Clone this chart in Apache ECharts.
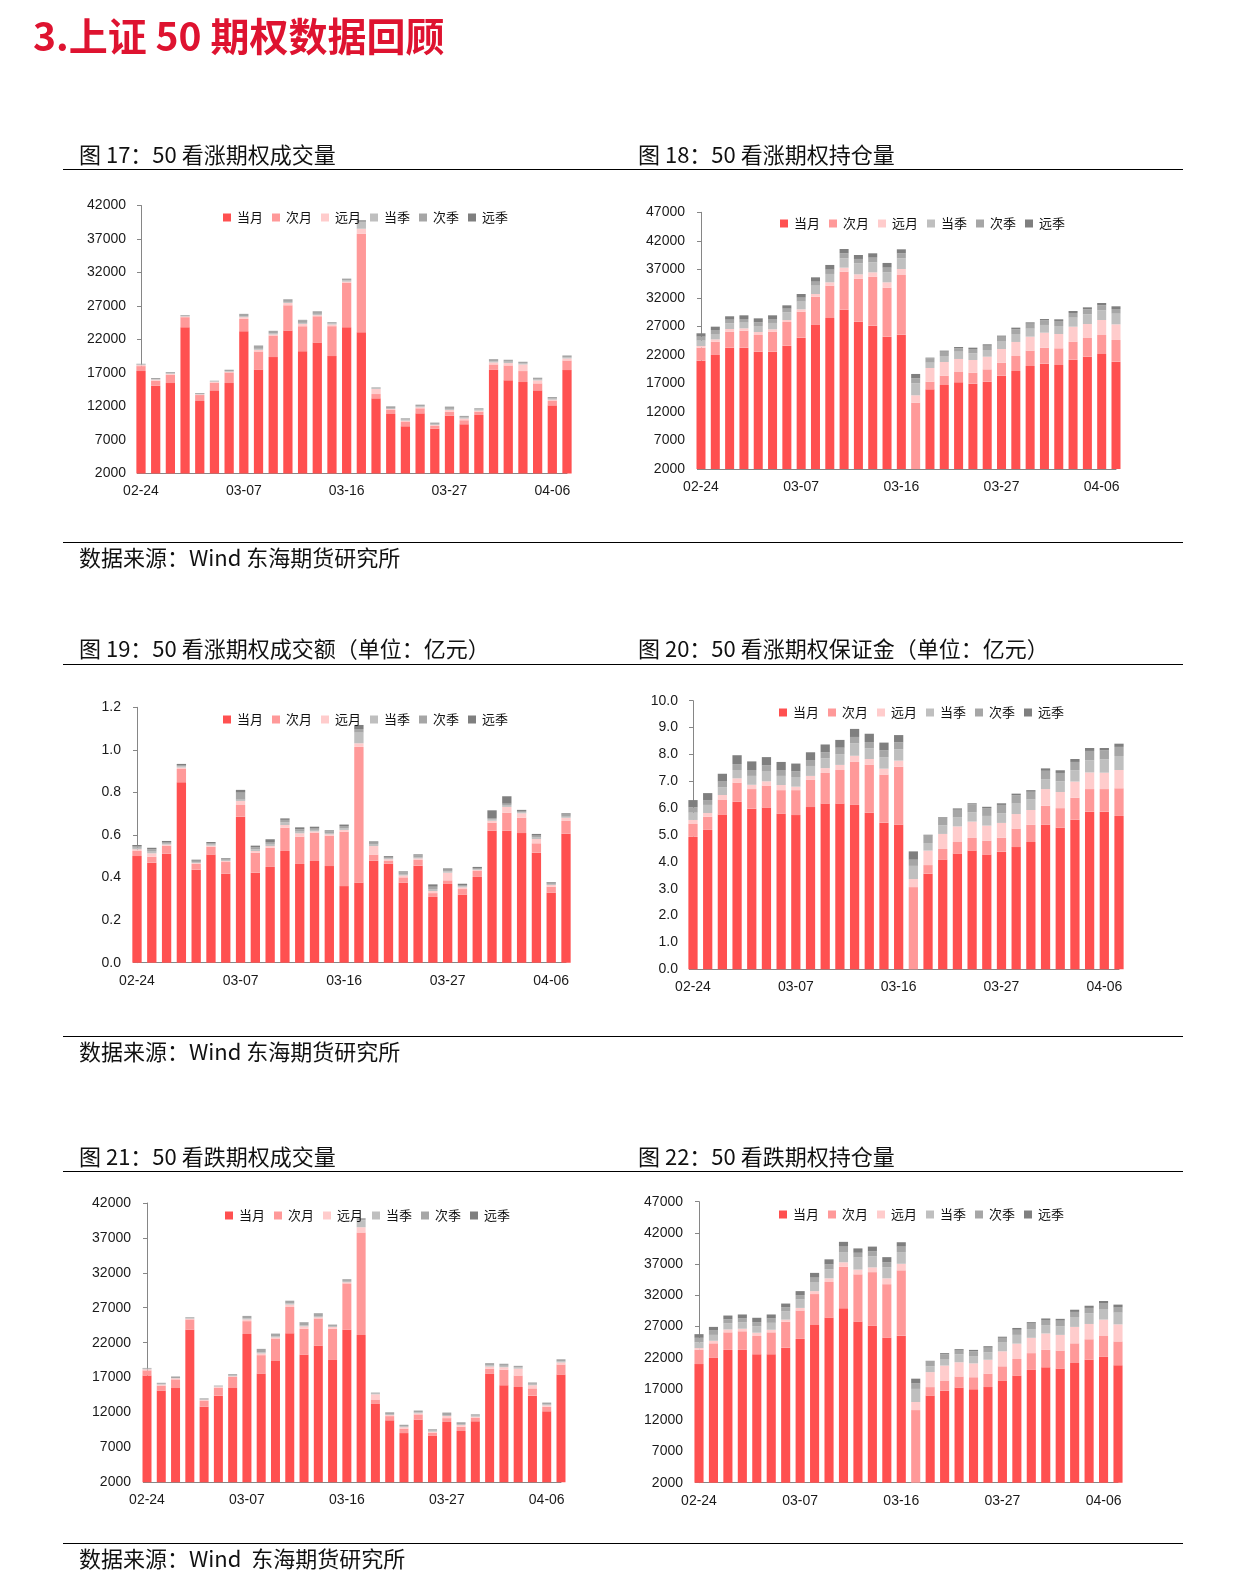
<!DOCTYPE html>
<html><head><meta charset="utf-8">
<script src="https://cdn.jsdelivr.net/npm/echarts/dist/echarts.min.js"></script>
<style>html,body{margin:0;padding:0;background:#fff}#c{width:1234px;height:1571px}</style>
</head><body><div id="c"></div>
<script>
// ---------- DATA ----------
const dates = ['02-24','02-27','02-28','03-01','03-02','03-03','03-06','03-07','03-08','03-09','03-10','03-13','03-14','03-15','03-16','03-17','03-20','03-21','03-22','03-23','03-24','03-27','03-28','03-29','03-30','03-31','04-03','04-04','04-06','04-07'];
const seriesNames = ['当月','次月','远月','当季','次季','远季'];

// 图17 50看涨期权成交量
const callVolCur  = [17290,15100,15500,23840,12820,14410,15500,23240,17530,19370,23340,20260,21550,19520,23840,23090,13220,10880,9050,10980,8700,10640,9350,10740,17530,15900,15650,14410,12170,17430];
const callVolNext = [740,750,1240,1490,890,1140,1590,1840,2680,3230,3770,3720,3920,4470,6650,14690,640,600,640,750,400,550,600,500,750,2230,1640,1040,650,1440];
const callVolFar  = [150,150,150,100,100,150,100,250,250,150,350,350,150,250,150,750,740,150,200,150,150,300,250,150,300,350,990,450,200,300];
const callVolQ1   = [100,100,50,50,50,50,100,150,150,150,150,150,200,150,200,1000,100,150,150,150,150,150,150,150,150,200,200,200,150,150];
const callVolQ2   = [100,150,150,100,100,100,200,350,500,400,400,400,400,200,250,300,150,250,200,250,200,350,250,200,200,300,200,200,250,300];
const callVolQ3   = [0,0,50,50,50,0,0,0,0,0,0,50,0,0,0,0,0,0,0,0,0,0,0,0,100,0,0,0,0,0];

// 图18 50看涨期权持仓量
const callOiCur  = [20990,21990,23270,23270,22570,22570,23620,25030,27250,28470,29930,27830,27130,25200,25550,0,15970,16730,17190,16960,17310,18360,19180,20060,20470,20230,21170,21690,22160,20820];
const callOiNext = [2280,2330,2810,2980,2920,3510,4150,4550,4960,5670,6670,7540,8590,8590,10460,13630,1340,1630,1820,1930,2160,2280,2630,2690,2800,2930,3150,3280,3330,3800];
const callOiFar  = [290,410,460,410,530,410,350,410,470,590,700,760,760,940,1050,1290,2400,2400,2280,2220,2220,2400,2460,2450,2630,2510,2630,2450,2630,2740];
const callOiQ1   = [940,940,1000,1000,1050,1110,1350,1350,1460,1460,1640,1930,1750,1750,1880,2100,930,1050,1280,1170,1170,1400,1400,1400,1350,1400,1580,1700,1700,1870];
const callOiQ2   = [700,700,640,640,640,700,640,700,700,760,870,760,820,820,870,880,760,760,590,760,760,760,820,880,810,880,820,870,870,820];
const callOiQ3   = [590,580,590,640,700,640,580,640,760,820,760,700,760,820,700,760,120,180,230,230,240,180,290,230,240,290,350,350,410,470];

// 图19 50看涨期权成交额（亿元）
const callAmtCur  = [0.501,0.470,0.512,0.848,0.437,0.508,0.418,0.686,0.423,0.450,0.525,0.464,0.478,0.454,0.360,0.376,0.479,0.465,0.376,0.456,0.309,0.370,0.320,0.403,0.620,0.620,0.609,0.517,0.329,0.606];
const callAmtNext = [0.024,0.028,0.038,0.062,0.027,0.037,0.055,0.055,0.094,0.090,0.109,0.128,0.133,0.143,0.256,0.638,0.029,0.013,0.025,0.027,0.018,0.017,0.026,0.028,0.038,0.085,0.072,0.044,0.028,0.060];
const callAmtFar  = [0.008,0.016,0.005,0.007,0.004,0.005,0.005,0.019,0.008,0.008,0.013,0.016,0.006,0.006,0.008,0.017,0.040,0.008,0.009,0.007,0.010,0.036,0.008,0.005,0.009,0.027,0.021,0.020,0.008,0.015];
const callAmtQ1   = [0.007,0.008,0.004,0.006,0.005,0.005,0.005,0.006,0.008,0.010,0.013,0.008,0.007,0.006,0.007,0.050,0.007,0.004,0.007,0.004,0.009,0.006,0.005,0.003,0.008,0.009,0.005,0.007,0.005,0.005];
const callAmtQ2   = [0.008,0.011,0.008,0.006,0.006,0.007,0.006,0.033,0.009,0.009,0.011,0.011,0.009,0.008,0.011,0.017,0.009,0.007,0.008,0.010,0.011,0.008,0.006,0.006,0.005,0.006,0.006,0.009,0.006,0.010];
const callAmtQ3   = [0.005,0.007,0.005,0.005,0.005,0.005,0.003,0.013,0.008,0.013,0.007,0.009,0.006,0.005,0.007,0.019,0.006,0.004,0.004,0.005,0.011,0.006,0.006,0.005,0.036,0.035,0.005,0.008,0.003,0.006];

// 图20 50看涨期权保证金（亿元）
const callMgnCur  = [4.93,5.19,5.76,6.24,5.98,6.02,5.79,5.74,6.04,6.17,6.17,6.12,5.83,5.46,5.38,0,3.56,4.09,4.31,4.42,4.27,4.38,4.55,4.74,5.38,5.27,5.57,5.87,5.87,5.71];
const callMgnNext = [0.48,0.49,0.56,0.71,0.73,0.82,0.88,0.93,1.01,1.14,1.25,1.60,1.78,1.79,2.16,3.06,0.32,0.39,0.43,0.47,0.52,0.52,0.69,0.64,0.71,0.73,0.82,0.84,0.84,1.03];
const callMgnFar  = [0.15,0.14,0.17,0.16,0.16,0.16,0.19,0.13,0.15,0.18,0.19,0.23,0.22,0.22,0.23,0.30,0.54,0.56,0.58,0.61,0.56,0.55,0.54,0.55,0.62,0.60,0.60,0.62,0.61,0.68];
const callMgnQ1   = [0.27,0.30,0.28,0.31,0.33,0.36,0.34,0.36,0.37,0.36,0.40,0.46,0.40,0.43,0.42,0.49,0.28,0.32,0.33,0.34,0.36,0.36,0.39,0.39,0.37,0.40,0.42,0.45,0.50,0.52];
const callMgnQ2   = [0.20,0.18,0.22,0.22,0.22,0.23,0.22,0.21,0.22,0.23,0.24,0.24,0.23,0.25,0.26,0.23,0.28,0.29,0.29,0.30,0.29,0.31,0.31,0.29,0.31,0.31,0.31,0.35,0.33,0.34];
const callMgnQ3   = [0.27,0.26,0.29,0.33,0.32,0.31,0.30,0.29,0.29,0.29,0.29,0.30,0.31,0.29,0.27,0.31,0.03,0.02,0.05,0.04,0.05,0.06,0.06,0.06,0.09,0.10,0.11,0.11,0.09,0.12];

// 图21 50看跌期权成交量
const putVolCur  = [17290,15100,15500,23840,12820,14410,15500,23240,17530,19370,23340,20260,21550,19520,23840,23090,13220,10880,9050,10980,8700,10640,9350,10740,17530,15900,15650,14410,12170,17430];
const putVolNext = [740,750,1240,1490,890,1140,1590,1840,2680,3230,3770,3720,3920,4470,6650,14690,640,600,640,750,400,550,600,500,750,2230,1640,1040,650,1440];
const putVolFar  = [150,150,150,100,100,150,100,250,250,150,350,350,150,250,150,750,740,150,200,150,150,300,250,150,300,350,990,450,200,300];
const putVolQ1   = [100,100,50,50,50,50,100,150,150,150,150,150,200,150,200,1000,100,150,150,150,150,150,150,150,150,200,200,200,150,150];
const putVolQ2   = [100,150,150,100,100,100,200,350,500,400,400,400,400,200,250,300,150,250,200,250,200,350,250,200,200,300,200,200,250,300];
const putVolQ3   = [0,0,50,50,50,0,0,0,0,0,0,50,0,0,0,0,0,0,0,0,0,0,0,0,100,0,0,0,0,0];

// 图22 50看跌期权持仓量
const putOiCur  = [20990,21990,23270,23270,22570,22570,23620,25030,27250,28470,29930,27830,27130,25200,25550,0,15970,16730,17190,16960,17310,18360,19180,20060,20470,20230,21170,21690,22160,20820];
const putOiNext = [2280,2330,2810,2980,2920,3510,4150,4550,4960,5670,6670,7540,8590,8590,10460,13630,1340,1630,1820,1930,2160,2280,2630,2690,2800,2930,3150,3280,3330,3800];
const putOiFar  = [290,410,460,410,530,410,350,410,470,590,700,760,760,940,1050,1290,2400,2400,2280,2220,2220,2400,2460,2450,2630,2510,2630,2450,2630,2740];
const putOiQ1   = [940,940,1000,1000,1050,1110,1350,1350,1460,1460,1640,1930,1750,1750,1880,2100,930,1050,1280,1170,1170,1400,1400,1400,1350,1400,1580,1700,1700,1870];
const putOiQ2   = [700,700,640,640,640,700,640,700,700,760,870,760,820,820,870,880,760,760,590,760,760,760,820,880,810,880,820,870,870,820];
const putOiQ3   = [590,580,590,640,700,640,580,640,760,820,760,700,760,820,700,760,120,180,230,230,240,180,290,230,240,290,350,350,410,470];

const yTicks17 = {min: 2000, max: 42000, interval: 5000};
const yTicks18 = {min: 2000, max: 47000, interval: 5000};
const yTicks19 = {min: 0, max: 1.2, interval: 0.2};
const yTicks20 = {min: 0, max: 10, interval: 1};

// ---------- STYLE / LAYOUT ----------
const colors = ['#FF5050','#FF9999','#FFCCCC','#BFBFBF','#A6A6A6','#7F7F7F'];
const CJK = '"Noto Sans CJK SC","Noto Sans",sans-serif';
const NUM = '"Liberation Sans",Arial,sans-serif';

const charts = [
  {grid:{left:141,top:205.5,width:426,height:268}, ticks:yTicks17, dec:0, legend:[223,211], margin:15,
   data:[callVolCur,callVolNext,callVolFar,callVolQ1,callVolQ2,callVolQ3]},
  {grid:{left:701,top:212.3,width:415,height:256.7}, ticks:yTicks18, dec:0, legend:[780,217], margin:16,
   data:[callOiCur,callOiNext,callOiFar,callOiQ1,callOiQ2,callOiQ3]},
  {grid:{left:137,top:707.3,width:429,height:255.4}, ticks:yTicks19, dec:1, legend:[223,713], margin:16,
   data:[callAmtCur,callAmtNext,callAmtFar,callAmtQ1,callAmtQ2,callAmtQ3]},
  {grid:{left:693,top:700.7,width:426,height:268.6}, ticks:yTicks20, dec:1, legend:[779,706], margin:15,
   data:[callMgnCur,callMgnNext,callMgnFar,callMgnQ1,callMgnQ2,callMgnQ3]},
  {grid:{left:147,top:1203,width:414,height:279.3}, ticks:yTicks17, dec:0, legend:[225,1209], margin:16,
   data:[putVolCur,putVolNext,putVolFar,putVolQ1,putVolQ2,putVolQ3]},
  {grid:{left:699,top:1201.7,width:419,height:281}, ticks:yTicks18, dec:0, legend:[779,1208], margin:16,
   data:[putOiCur,putOiNext,putOiFar,putOiQ1,putOiQ2,putOiQ3]}
];

const grid=[], xAxis=[], yAxis=[], legend=[], series=[];
charts.forEach((c,i)=>{
  grid.push(Object.assign({containLabel:false}, c.grid));
  xAxis.push({type:'category', gridIndex:i, data:dates, boundaryGap:false,
    axisLine:{lineStyle:{color:'#868686',width:1}}, axisTick:{show:false},
    axisLabel:{interval:6, fontSize:14, fontFamily:NUM, color:'#1a1a1a', margin:11}, splitLine:{show:false}});
  yAxis.push({type:'value', gridIndex:i, min:c.ticks.min, max:c.ticks.max, interval:c.ticks.interval,
    axisLine:{show:true, lineStyle:{color:'#868686',width:1}}, axisTick:{show:true, length:4, lineStyle:{color:'#868686'}},
    splitLine:{show:false},
    axisLabel:{fontSize:14, fontFamily:NUM, color:'#1a1a1a', margin:c.margin,
      formatter:v=>Number(v).toFixed(c.dec)}});
  legend.push({data:seriesNames, left:c.legend[0], top:c.legend[1], padding:0, itemWidth:8, itemHeight:8, itemGap:9,
    icon:'rect', selectedMode:false, textStyle:{fontSize:13, fontFamily:CJK, color:'#111', padding:[0,0,0,1]}});
  seriesNames.forEach((n,k)=>{
    series.push({type:'bar', name:n, xAxisIndex:i, yAxisIndex:i, stack:'s'+i, data:c.data[k],
      barWidth:'63%', clip:true, itemStyle:{color:colors[k]}, emphasis:{disabled:true}, animation:false});
  });
});

const txt = (x,y,t,font,fill)=>({type:'text', left:x, top:y, style:{text:t, font:font, fill:fill||'#111'}});
const hline = (y)=>({type:'line', shape:{x1:63,y1:y,x2:1183,y2:y}, style:{stroke:'#000',lineWidth:1}});
const capFont = '22px ' + CJK;
const graphic = [
  txt(33,17,'3.上证 50 期权数据回顾','bold 39px '+CJK,'#DE1330'),
  txt(79,144,'图 17：50 看涨期权成交量',capFont),
  txt(638,144,'图 18：50 看涨期权持仓量',capFont),
  hline(169.5),
  hline(542.5),
  txt(79,547,'数据来源：Wind 东海期货研究所',capFont),
  txt(79,638,'图 19：50 看涨期权成交额（单位：亿元）',capFont),
  txt(638,638,'图 20：50 看涨期权保证金（单位：亿元）',capFont),
  hline(664.5),
  hline(1036.5),
  txt(79,1041,'数据来源：Wind 东海期货研究所',capFont),
  txt(79,1146,'图 21：50 看跌期权成交量',capFont),
  txt(638,1146,'图 22：50 看跌期权持仓量',capFont),
  hline(1171.5),
  hline(1543.5),
  txt(79,1548,'数据来源：Wind  东海期货研究所',capFont)
];

const chart = echarts.init(document.getElementById('c'), null, {renderer:'canvas'});
chart.setOption({backgroundColor:'#fff', animation:false, grid, xAxis, yAxis, legend, series, graphic});
</script></body></html>
